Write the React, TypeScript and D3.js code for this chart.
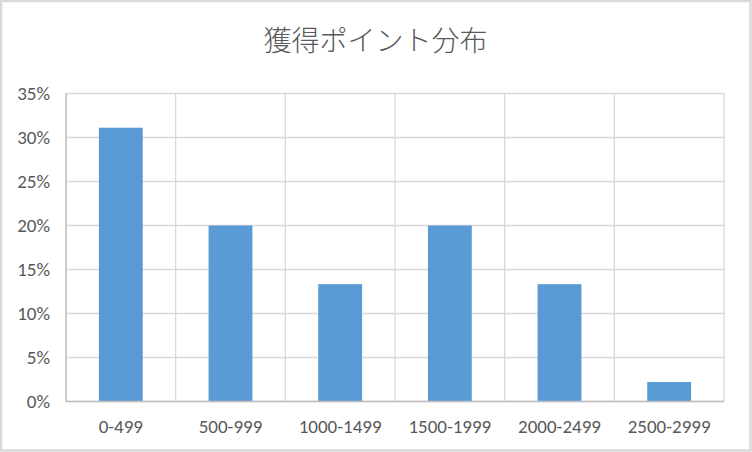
import React from "react";
import * as d3 from "d3";

const title = "獲得ポイント分布";
const categories = ["0-499", "500-999", "1000-1499", "1500-1999", "2000-2499", "2500-2999"];
const counts = [14, 9, 6, 9, 6, 1];
const total = 45;
const values = counts.map((c) => c / total);
const yTicks = [0, 0.05, 0.1, 0.15, 0.2, 0.25, 0.3, 0.35];

const W = 752;
const H = 452;
const left = 66;
const right = 724;
const top = 93.5;
const bottom = 401.5;

export default function App() {
  React.useEffect(() => {
    document.body.style.margin = "0";
  }, []);
  const x = d3.scaleBand<string>().domain(categories).range([left, right]).paddingInner(0.6).paddingOuter(0.3);
  const y = d3.scaleLinear().domain([0, 0.35]).range([bottom, top]);
  const boundaries = d3.range(categories.length + 1).map((i) => left + i * ((right - left) / categories.length));
  const fmt = d3.format(".0%");
  const font = "Calibri, Carlito, 'Noto Sans', 'Open Sans', sans-serif";
  return (
    <svg width={W} height={H} style={{ display: "block", position: "absolute", left: 0, top: 0 }}>
      <rect x={0} y={0} width={W} height={H} fill="#ffffff" />
      <rect x={1} y={1} width={749.5} height={449.5} fill="none" stroke="#d9d9d9" strokeWidth={2.5} />
      <text
        x={375.5}
        y={50.5}
        textAnchor="middle"
        fontFamily="'Noto Sans CJK JP', sans-serif"
        fontWeight={300}
        fontSize={28}
        fill="#595959"
      >
        {title}
      </text>
      {yTicks.map((t) => (
        <line key={"h" + t} x1={left} x2={right} y1={y(t)} y2={y(t)} stroke="#d9d9d9" strokeWidth={1.3} />
      ))}
      {boundaries.map((b, i) => (
        <line key={"v" + i} x1={b} x2={b} y1={top} y2={bottom} stroke="#d9d9d9" strokeWidth={1.3} />
      ))}
      {categories.map((c, i) => (
        <rect
          key={c}
          x={x(c)}
          y={y(values[i])}
          width={x.bandwidth()}
          height={bottom - y(values[i])}
          fill="#5b9bd5"
        />
      ))}
      <line x1={left} x2={left} y1={top} y2={bottom} stroke="#bfbfbf" strokeWidth={1.3} />
      <line x1={left} x2={right} y1={bottom} y2={bottom} stroke="#bfbfbf" strokeWidth={1.3} />
      {yTicks.map((t) => (
        <text
          key={"t" + t}
          x={50}
          y={y(t)}
          dy="0.35em"
          textAnchor="end"
          fontFamily={font}
          fontSize={19}
          fill="#595959"
        >
          {fmt(t)}
        </text>
      ))}
      {categories.map((c) => (
        <text
          key={"c" + c}
          x={(x(c) as number) + x.bandwidth() / 2}
          y={426}
          dy="0.35em"
          textAnchor="middle"
          fontFamily={font}
          fontSize={19}
          fill="#595959"
        >
          {c}
        </text>
      ))}
    </svg>
  );
}
